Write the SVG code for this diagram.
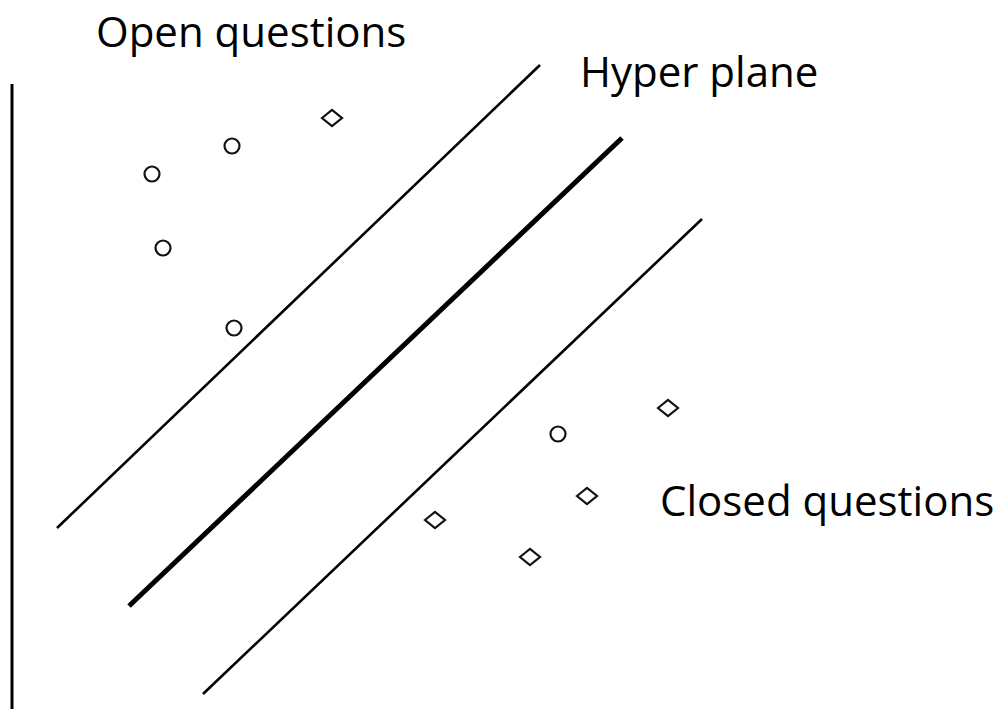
<svg xmlns="http://www.w3.org/2000/svg" width="1000" height="709" viewBox="0 0 1000 709">
<style>
.lbl{font-family:"Open Sans","Noto Sans",sans-serif;font-size:42px;fill:#000}
.pt{fill:none;stroke:#111;stroke-width:2.2}
.ln{stroke:#000;stroke-width:2.6;stroke-linecap:butt}
</style>
<rect width="1000" height="709" fill="#fff"/>
<g id="connectors">
<line class="ln" x1="12" y1="84" x2="12" y2="709" style="stroke-width:3"/>
<line class="ln" x1="57" y1="528" x2="540" y2="65"/>
<line class="ln" x1="129" y1="606" x2="622" y2="138" style="stroke-width:5"/>
<line class="ln" x1="203" y1="694" x2="702" y2="219"/>
</g>
<g id="label-open"><text class="lbl" x="96" y="47">Open questions</text></g>
<g id="label-hyper"><text class="lbl" x="580" y="87">Hyper plane</text></g>
<g id="label-closed"><text class="lbl" x="660" y="516">Closed questions</text></g>
<g id="points">
<circle class="pt" cx="152" cy="174" r="7.5"/>
<circle class="pt" cx="232" cy="146" r="7.5"/>
<circle class="pt" cx="163" cy="248" r="7.5"/>
<circle class="pt" cx="234" cy="328" r="7.5"/>
<circle class="pt" cx="558" cy="434" r="7.5"/>
<path class="pt" d="M322 118 L332 110 L342 118 L332 126 Z"/>
<path class="pt" d="M658 408 L668 400 L678 408 L668 416 Z"/>
<path class="pt" d="M577 496 L587 488 L597 496 L587 504 Z"/>
<path class="pt" d="M425 520 L435 512 L445 520 L435 528 Z"/>
<path class="pt" d="M520 557 L530 549 L540 557 L530 565 Z"/>
</g>
</svg>
